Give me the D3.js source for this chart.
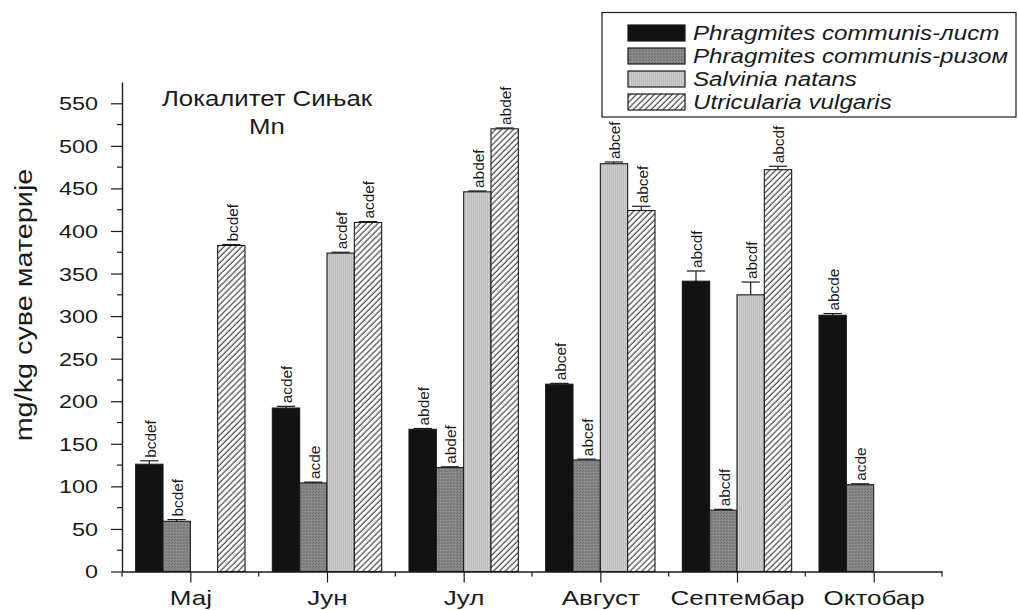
<!DOCTYPE html>
<html><head><meta charset="utf-8">
<script src="https://cdn.jsdelivr.net/npm/d3@7"></script>
<style>body{margin:0;background:#fff}svg{display:block}</style>
</head><body>
<script>
// Mn content (mg/kg dry matter), locality Siņak
const months = ["Мај", "Јун", "Јул", "Август", "Септембар", "Октобар"];
const seriesNames = ["Phragmites communis-лист", "Phragmites communis-ризом", "Salvinia natans", "Utricularia vulgaris"];

const leafValues        = [126, 192, 167, 220, 341, 301];
const rhizomeValues     = [59, 104, 122, 131, 72, 102];
const salviniaValues    = [null, 374, 446, 479, 325, null];
const utriculariaValues = [383, 410, 520, 424, 472, null];

const leafErrors        = [4, 2, 1, 1, 12, 2];
const rhizomeErrors     = [2, 1, 1, 1, 1, 1];
const salviniaErrors    = [null, 1, 1, 2, 15, null];
const utriculariaErrors = [1, 1, 1, 5, 4, null];

const leafLetters        = ["bcdef", "acdef", "abdef", "abcef", "abcdf", "abcde"];
const rhizomeLetters     = ["bcdef", "acde", "abdef", "abcef", "abcdf", "acde"];
const salviniaLetters    = [null, "acdef", "abdef", "abcef", "abcdf", null];
const utriculariaLetters = ["bcdef", "acdef", "abdef", "abcef", "abcdf", null];

const yMajorTicks = [0, 50, 100, 150, 200, 250, 300, 350, 400, 450, 500, 550];
const yMinorTicks = [25, 75, 125, 175, 225, 275, 325, 375, 425, 475, 525];

const valueSets  = [leafValues, rhizomeValues, salviniaValues, utriculariaValues];
const errorSets  = [leafErrors, rhizomeErrors, salviniaErrors, utriculariaErrors];
const letterSets = [leafLetters, rhizomeLetters, salviniaLetters, utriculariaLetters];

const W = 1018, H = 610;
const FONT = "'Liberation Sans', Arial, Helvetica, sans-serif";
const STRETCH = 1.3;
const INK = "#1a1a1a";

const svg = d3.select("body").append("svg").attr("width", W).attr("height", H);

// fill textures
const defs = svg.append("defs");
const hatch = defs.append("pattern").attr("id", "hatch")
  .attr("patternUnits", "userSpaceOnUse").attr("width", 4.2).attr("height", 4.2)
  .attr("patternTransform", "rotate(45)");
hatch.append("rect").attr("width", 4.2).attr("height", 4.2).attr("fill", "#fff");
hatch.append("line").attr("x1", 1).attr("y1", 0).attr("x2", 1).attr("y2", 4.2)
  .attr("stroke", "#222").attr("stroke-width", 1);

const stipple = defs.append("pattern").attr("id", "stipple")
  .attr("patternUnits", "userSpaceOnUse").attr("width", 3).attr("height", 3);
stipple.append("rect").attr("width", 3).attr("height", 3).attr("fill", "#858585");
stipple.append("rect").attr("x", 0).attr("y", 0).attr("width", 1).attr("height", 1).attr("fill", "#6f6f6f");
stipple.append("rect").attr("x", 2).attr("y", 1).attr("width", 1).attr("height", 1).attr("fill", "#959595");
stipple.append("rect").attr("x", 1).attr("y", 2).attr("width", 1).attr("height", 1).attr("fill", "#747474");

const lightFill = defs.append("pattern").attr("id", "lightfill")
  .attr("patternUnits", "userSpaceOnUse").attr("width", 2).attr("height", 2);
lightFill.append("rect").attr("width", 2).attr("height", 2).attr("fill", "#cdcdcd");
lightFill.append("rect").attr("x", 1).attr("width", 1).attr("height", 2).attr("fill", "#bdbdbd");

const fills = ["#121212", "url(#stipple)", "url(#lightfill)", "url(#hatch)"];

// scales
const x = d3.scaleLinear().domain([0.5, 6.5]).range([122, 942]);
const y = d3.scaleLinear().domain([0, 575]).range([571.5, 82]);
const barUnits = 0.2;

// bars
const bars = [];
valueSets.forEach((vals, j) => {
  vals.forEach((v, i) => {
    if (v == null) return;
    const c = i + 1 + (j - 1.5) * barUnits;
    bars.push({ j, i, v, c, e: errorSets[j][i], t: letterSets[j][i] });
  });
});

svg.append("g").selectAll("rect").data(bars).join("rect")
  .attr("x", d => x(d.c - barUnits / 2))
  .attr("width", d => x(d.c + barUnits / 2) - x(d.c - barUnits / 2))
  .attr("y", d => y(d.v))
  .attr("height", d => y(0) - y(d.v))
  .attr("fill", d => fills[d.j])
  .attr("stroke", INK).attr("stroke-width", 1.1);

// error bars
const eg = svg.append("g").attr("stroke", INK).attr("stroke-width", 1.2);
eg.selectAll("line.v").data(bars).join("line").attr("class", "v")
  .attr("x1", d => x(d.c)).attr("x2", d => x(d.c))
  .attr("y1", d => y(d.v)).attr("y2", d => y(d.v + d.e));
eg.selectAll("line.cap").data(bars).join("line").attr("class", "cap")
  .attr("x1", d => x(d.c - 0.067)).attr("x2", d => x(d.c + 0.067))
  .attr("y1", d => y(d.v + d.e)).attr("y2", d => y(d.v + d.e));

// significance letters above bars
svg.append("g").selectAll("text").data(bars.filter(d => d.t)).join("text")
  .attr("transform", d => `translate(${x(d.c) + 1.5},${y(d.v + d.e) - 3}) rotate(-90) scale(1.1,1)`)
  .attr("dy", "0.35em")
  .attr("font-family", FONT).attr("font-size", 14).attr("fill", INK)
  .text(d => d.t);

// y axis
const yAxis = svg.append("g").attr("transform", `translate(${x(0.5)},0)`)
  .call(d3.axisLeft(y).tickValues(yMajorTicks).tickSize(11).tickSizeOuter(0).tickPadding(0));
yAxis.selectAll(".tick text")
  .attr("x", -24 / STRETCH).attr("dy", "0.36em")
  .attr("transform", `scale(${STRETCH},1)`)
  .attr("font-family", FONT).attr("font-size", 18).attr("fill", INK);
svg.append("g").selectAll("line").data(yMinorTicks).join("line")
  .attr("x1", x(0.5) - 5).attr("x2", x(0.5))
  .attr("y1", d => y(d)).attr("y2", d => y(d))
  .attr("stroke", INK).attr("stroke-width", 1.2);

// x axis
const xAxis = svg.append("g").attr("transform", `translate(0,${y(0)})`)
  .call(d3.axisBottom(x).tickValues([1, 2, 3, 4, 5, 6]).tickSize(11).tickSizeOuter(0).tickPadding(0)
    .tickFormat(d => months[d - 1]));
xAxis.selectAll(".tick text")
  .attr("y", 33.5).attr("dy", 0)
  .attr("transform", `scale(${STRETCH},1)`)
  .attr("font-family", FONT).attr("font-size", 20).attr("fill", INK);
svg.append("g").selectAll("line").data([0.5, 1.5, 2.5, 3.5, 4.5, 5.5, 6.5]).join("line")
  .attr("x1", d => x(d)).attr("x2", d => x(d))
  .attr("y1", y(0)).attr("y2", y(0) + 5)
  .attr("stroke", INK).attr("stroke-width", 1.2);

[yAxis, xAxis].forEach(a => {
  a.select(".domain").attr("stroke", INK).attr("stroke-width", 1.4);
  a.selectAll(".tick line").attr("stroke", INK).attr("stroke-width", 1.2);
});

// axis title
svg.append("text")
  .attr("transform", `translate(32,305) rotate(-90) scale(1.2,1)`)
  .attr("text-anchor", "middle")
  .attr("font-family", FONT).attr("font-size", 24).attr("fill", INK)
  .text("mg/kg суве материје");

// plot title
const title = svg.append("g").attr("font-family", FONT).attr("fill", INK).attr("text-anchor", "middle");
title.append("text").attr("transform", "translate(267,106) scale(1.12,1)")
  .attr("font-size", 23).text("Локалитет Сињак");
title.append("text").attr("transform", "translate(267,134) scale(1.12,1)")
  .attr("font-size", 23).text("Mn");

// legend
const lg = svg.append("g");
lg.append("rect").attr("x", 602).attr("y", 12.5).attr("width", 414).attr("height", 104.5)
  .attr("fill", "#fff").attr("stroke", INK).attr("stroke-width", 1.2);
const rows = lg.selectAll("g.row").data(seriesNames).join("g").attr("class", "row")
  .attr("transform", (d, j) => `translate(0,${25 + j * 23})`);
rows.append("rect").attr("x", 628).attr("y", 0).attr("width", 57).attr("height", 16)
  .attr("fill", (d, j) => fills[j]).attr("stroke", INK).attr("stroke-width", 1.2);
rows.append("text")
  .attr("transform", `translate(693,14.5) scale(1.24,1)`)
  .attr("font-family", FONT).attr("font-size", 19.5).attr("font-style", "italic").attr("fill", INK)
  .text(d => d);
</script>
</body></html>
